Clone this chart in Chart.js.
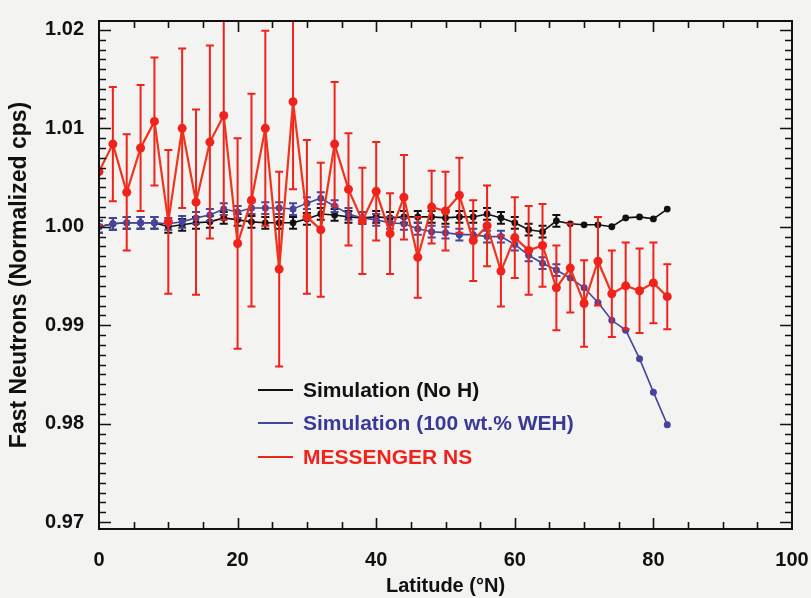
<!DOCTYPE html>
<html><head><meta charset="utf-8">
<script src="https://cdn.jsdelivr.net/npm/chart.js@4.4.1/dist/chart.umd.min.js"></script>
<style>html,body{margin:0;padding:0;background:#f3f3f1;}canvas{display:block;}</style>
</head><body>
<canvas id="c" width="811" height="598"></canvas>
<script>
const latitudes = [0,2,4,6,8,10,12,14,16,18,20,22,24,26,28,30,32,34,36,38,40,42,44,46,48,50,52,54,56,58,60,62,64,66,68,70,72,74,76,78,80,82];
const messengerValues = [1.0056,1.0084,1.0035,1.0080,1.0107,1.0005,1.0100,1.0025,1.0086,1.0113,0.9983,1.0027,1.0100,0.9957,1.0127,1.0010,0.9997,1.0084,1.0038,1.0006,1.0036,0.9993,1.0030,0.9969,1.0020,1.0016,1.0032,0.9986,1.0001,0.9955,0.9989,0.9976,0.9981,0.9938,0.9958,0.9922,0.9965,0.9932,0.9940,0.9935,0.9943,0.9929];
const messengerErrors = [0.0054,0.0058,0.0059,0.0064,0.0065,0.0073,0.0081,0.0094,0.0098,0.0106,0.0107,0.0108,0.0099,0.0099,0.0089,0.0078,0.0068,0.0063,0.0057,0.0054,0.0050,0.0041,0.0043,0.0041,0.0037,0.0040,0.0038,0.0041,0.0041,0.0036,0.0041,0.0045,0.0042,0.0043,0.0045,0.0044,0.0045,0.0044,0.0044,0.0043,0.0041,0.0033];
const noHValues = [1.0000,1.0003,1.0004,1.0004,1.0004,1.0000,1.0002,1.0004,1.0005,1.0009,1.0007,1.0005,1.0004,1.0004,1.0004,1.0008,1.0013,1.0012,1.0010,1.0009,1.0010,1.0009,1.0010,1.0010,1.0010,1.0009,1.0010,1.0010,1.0013,1.0009,1.0004,0.9997,0.9995,1.0006,1.0003,1.0002,1.0002,1.0000,1.0009,1.0010,1.0008,1.0018];
const noHErrors = [0.0006,0.0006,0.0006,0.0006,0.0006,0.0006,0.0006,0.0006,0.0006,0.0006,0.0006,0.0006,0.0006,0.0006,0.0006,0.0006,0.0006,0.0006,0.0006,0.0006,0.0006,0.0006,0.0006,0.0006,0.0006,0.0006,0.0006,0.0006,0.0006,0.0006,0.0006,0.0006,0.0006,0.0006,0,0,0,0,0,0,0,0];
const wehValues = [1.0000,1.0003,1.0004,1.0004,1.0004,1.0003,1.0005,1.0009,1.0012,1.0018,1.0015,1.0019,1.0019,1.0019,1.0018,1.0024,1.0029,1.0021,1.0013,1.0009,1.0007,1.0004,1.0003,0.9998,0.9995,0.9994,0.9992,0.9992,0.9990,0.9990,0.9982,0.9971,0.9963,0.9956,0.9948,0.9938,0.9923,0.9905,0.9895,0.9866,0.9832,0.9799];
const wehErrors = [0.0006,0.0006,0.0006,0.0006,0.0006,0.0006,0.0006,0.0006,0.0006,0.0006,0.0006,0.0006,0.0006,0.0006,0.0006,0.0006,0.0006,0.0006,0.0006,0.0006,0.0006,0.0006,0.0006,0.0006,0.0006,0.0006,0.0006,0.0006,0.0006,0.0006,0.0006,0.0006,0.0006,0.0006,0,0,0,0,0,0,0,0];
const yTickValues = [0.97,0.98,0.99,1.00,1.01,1.02];
const xTickValues = [0,20,40,60,80,100];
const seriesLabels = ['Simulation (No H)','Simulation (100 wt.% WEH)','MESSENGER NS'];
const seriesColors = ['#111111','#45459c','#f0231c'];
const legendTextColors = ['#111111','#3a3a96','#f0231c'];

const FONT = '"Liberation Sans", Arial, Helvetica, sans-serif';
const pts = vals => vals.map((v,i)=>({x:latitudes[i], y:v}));

const bgPlugin = {
  id:'bg',
  beforeDraw(chart){
    const ctx = chart.ctx; ctx.save(); ctx.fillStyle='#f3f3f1'; ctx.fillRect(0,0,chart.width,chart.height); ctx.restore();
  }
};

const errorBars = {
  id:'errorBars',
  beforeDatasetDraw(chart, args){
    const ds = chart.data.datasets[args.index];
    if(!ds.errors) return;
    const {ctx, chartArea:a} = chart;
    const x = chart.scales.x, y = chart.scales.y;
    ctx.save();
    ctx.beginPath(); ctx.rect(a.left, a.top, a.right-a.left, a.bottom-a.top); ctx.clip();
    ctx.strokeStyle = ds.errorColor; ctx.lineWidth = ds.errorWidth;
    const cap = ds.capHalf;
    ds.data.forEach((p,i)=>{
      const e = ds.errors[i]; if(!e) return;
      const px = x.getPixelForValue(p.x);
      const t = y.getPixelForValue(p.y+e), b = y.getPixelForValue(p.y-e);
      ctx.beginPath();
      ctx.moveTo(px,t); ctx.lineTo(px,b);
      ctx.moveTo(px-cap,t); ctx.lineTo(px+cap,t);
      ctx.moveTo(px-cap,b); ctx.lineTo(px+cap,b);
      ctx.stroke();
    });
    ctx.restore();
  }
};

const framePlugin = {
  id:'frame',
  afterDatasetsDraw(chart){
    const {ctx, chartArea:a} = chart;
    const x = chart.scales.x, y = chart.scales.y;
    ctx.save();
    ctx.strokeStyle='#111'; ctx.lineWidth=1.6;
    ctx.beginPath();
    for(let k=970;k<=1020;k++){
      const py = Math.round(y.getPixelForValue(k/1000))+0.5;
      const len = (k%10===0)?12:7;
      ctx.moveTo(a.left,py); ctx.lineTo(a.left+len,py);
      ctx.moveTo(a.right,py); ctx.lineTo(a.right-len,py);
    }
    for(let v=5; v<100; v+=5){
      const px = Math.round(x.getPixelForValue(v))+0.5;
      const len = (v%20===0)?11:7;
      ctx.moveTo(px,a.bottom); ctx.lineTo(px,a.bottom-len);
      ctx.moveTo(px,a.top); ctx.lineTo(px,a.top+len);
    }
    ctx.stroke();
    ctx.lineWidth=2;
    ctx.strokeRect(a.left, a.top, a.right-a.left, a.bottom-a.top);
    ctx.restore();
  }
};

const legendPlugin = {
  id:'customLegend',
  afterDraw(chart){
    const ctx = chart.ctx;
    const rows = [390, 423, 457];
    ctx.save();
    ctx.font = 'bold 21px ' + FONT;
    ctx.textBaseline = 'middle';
    seriesLabels.forEach((lab,i)=>{
      ctx.strokeStyle = seriesColors[i]; ctx.lineWidth = 2;
      ctx.beginPath(); ctx.moveTo(258, rows[i]); ctx.lineTo(293, rows[i]); ctx.stroke();
      ctx.fillStyle = legendTextColors[i];
      ctx.fillText(lab, 303, rows[i]+1);
    });
    ctx.restore();
  }
};

new Chart(document.getElementById('c'), {
  type:'line',
  data:{
    datasets:[
      {label:seriesLabels[2], data:pts(messengerValues), errors:messengerErrors, errorColor:'#f0231c', errorWidth:2, capHalf:4,
       borderColor:'#f2331c', backgroundColor:'#f0231c', borderWidth:2.2, pointRadius:4.5, pointBorderWidth:0, pointBackgroundColor:'#f0231c', tension:0, order:0},
      {label:seriesLabels[1], data:pts(wehValues), errors:wehErrors, errorColor:'#45459c', errorWidth:2, capHalf:4,
       borderColor:'#45459c', backgroundColor:'#45459c', borderWidth:1.6, pointRadius:3.5, pointBorderWidth:0, pointBackgroundColor:'#45459c', tension:0, order:1},
      {label:seriesLabels[0], data:pts(noHValues), errors:noHErrors, errorColor:'#111111', errorWidth:2, capHalf:4,
       borderColor:'#111111', backgroundColor:'#111111', borderWidth:1.6, pointRadius:3.4, pointBorderWidth:0, pointBackgroundColor:'#111111', tension:0, order:2}
    ]
  },
  options:{
    responsive:false, animation:false, devicePixelRatio:1,
    layout:{padding:{top:21, right:19, left:0, bottom:0}},
    plugins:{legend:{display:false}, tooltip:{enabled:false}},
    scales:{
      x:{type:'linear', min:0, max:100,
         afterFit(s){ s.height = 69; s.paddingLeft = 0; s.paddingRight = 0; },
         afterBuildTicks(s){ s.ticks = xTickValues.map(v=>({value:v})); },
         grid:{display:false}, border:{display:false},
         ticks:{color:'#111', font:{family:FONT, size:20, weight:'bold'}, padding:11, maxRotation:0, autoSkip:false},
         title:{display:true, text:'Latitude (°N)', color:'#111', font:{family:FONT, size:20, weight:'bold'}, padding:{top:0,bottom:0}}
      },
      y:{type:'linear', min:0.9693, max:1.0209,
         afterFit(s){ s.width = 99; s.paddingTop = 0; s.paddingBottom = 0; },
         afterBuildTicks(s){ s.ticks = yTickValues.map(v=>({value:v})); },
         grid:{display:false}, border:{display:false},
         ticks:{color:'#111', font:{family:FONT, size:20, weight:'bold'}, padding:7, callback:v=>Number(v).toFixed(2)},
         title:{display:true, text:'Fast Neutrons (Normalized cps)', color:'#111', font:{family:FONT, size:23, weight:'bold'}, padding:{top:6,bottom:0}}
      }
    }
  },
  plugins:[bgPlugin, errorBars, framePlugin, legendPlugin]
});
</script>
</body></html>
